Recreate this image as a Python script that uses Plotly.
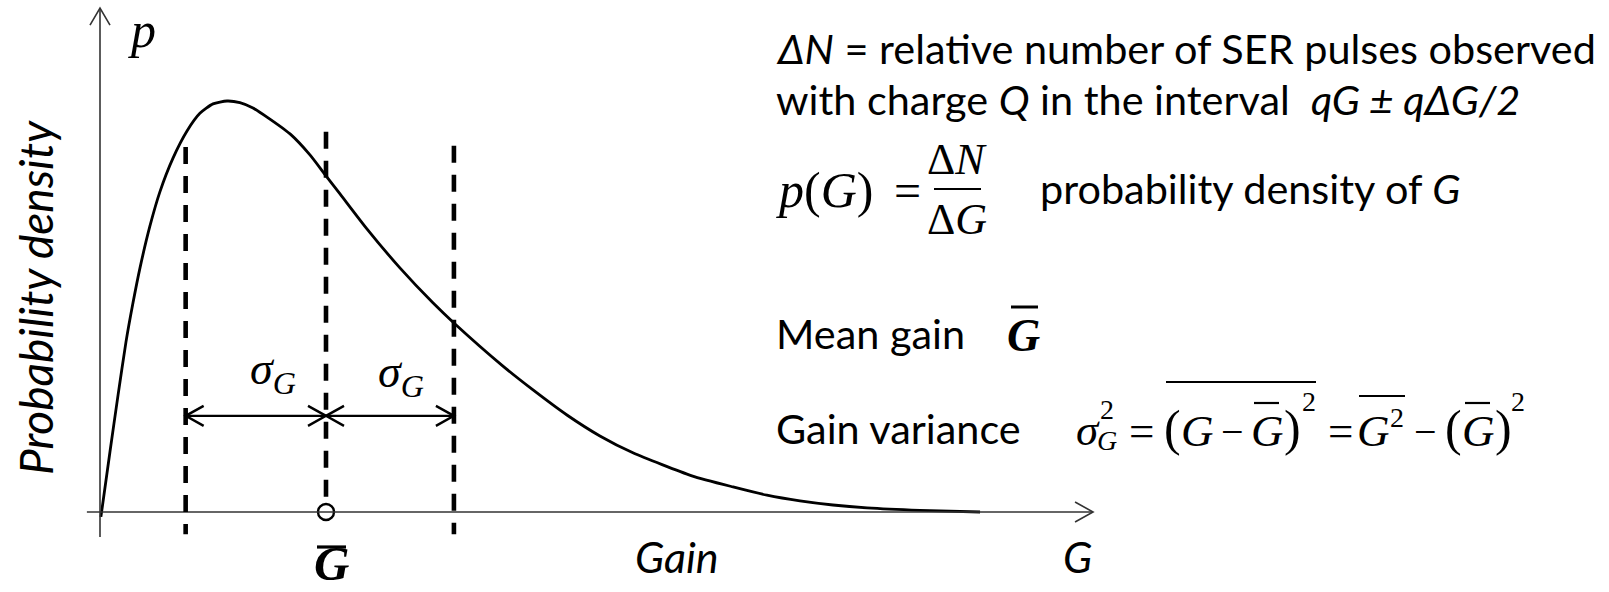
import plotly.graph_objects as go

W, H = 1609, 592

# Single-electron-response gain distribution (arbitrary units: mean gain = 1, peak density = 1)
gain = [0.004, 0.044, 0.080, 0.115, 0.146, 0.177, 0.221, 0.265, 0.323, 0.385, 0.442,
        0.500, 0.562, 0.619, 0.677, 0.739, 0.841, 0.929, 1.000, 1.062, 1.181, 1.327,
        1.473, 1.566, 1.783, 1.916, 2.066, 2.212, 2.358, 2.619, 2.801, 2.951, 3.097,
        3.243, 3.394, 3.628, 3.894]
density = [-0.012, 0.146, 0.285, 0.414, 0.509, 0.594, 0.696, 0.779, 0.861, 0.927, 0.970,
           0.993, 1.000, 0.996, 0.983, 0.961, 0.920, 0.869, 0.818, 0.774, 0.689, 0.594,
           0.509, 0.460, 0.355, 0.297, 0.236, 0.185, 0.144, 0.088, 0.061, 0.041, 0.027,
           0.017, 0.010, 0.004, 0.000]

mean_gain = 1.0
sigma_marks = [0.379, 1.0, 1.566]      # G - sigma, mean, G + sigma
dash_tops = [0.888, 0.925, 0.891]
dash_bottom = -0.054
arrow_level = 0.234

# axis extents (data units)
x_axis_from, x_axis_to = -0.058, 4.394
y_axis_from, y_axis_to = -0.061, 1.226

# linear scales: origin sits at pixel (100, 512)
PX_PER_G, PX_PER_P = 226.0, 411.0
ORIGIN_X, ORIGIN_Y = 100.0, 512.0
xr = [-ORIGIN_X / PX_PER_G, (W - ORIGIN_X) / PX_PER_G]
yr = [(ORIGIN_Y - H) / PX_PER_P, ORIGIN_Y / PX_PER_P]

SANS = "Lato"
SERIF = "Liberation Serif"
INK = "black"
AXIS = "#333333"


def px(x):
    return x / W


def py(y):
    return 1 - y / H


fig = go.Figure()

# distribution curve
fig.add_trace(go.Scatter(
    x=gain, y=density, mode="lines",
    line=dict(color=INK, width=2.8, shape="spline", smoothing=0.6),
    hoverinfo="skip", showlegend=False))

# mean marker on the gain axis
fig.add_trace(go.Scatter(
    x=[mean_gain], y=[0], mode="markers",
    marker=dict(symbol="circle-open", size=16, color=INK, line=dict(width=2.4)),
    hoverinfo="skip", showlegend=False))

shapes = []

# axes with open arrowheads
shapes.append(dict(type="line", xref="x", yref="y", x0=x_axis_from, x1=x_axis_to, y0=0, y1=0,
                   line=dict(color=AXIS, width=1.6)))
shapes.append(dict(type="line", xref="x", yref="y", x0=0, x1=0, y0=y_axis_from, y1=y_axis_to,
                   line=dict(color=AXIS, width=1.6)))
shapes.append(dict(type="path", xref="x", yref="y", xsizemode="pixel", ysizemode="pixel",
                   xanchor=x_axis_to, yanchor=0, path="M -18,10 L 0,0 L -18,-10",
                   line=dict(color=AXIS, width=1.6)))
shapes.append(dict(type="path", xref="x", yref="y", xsizemode="pixel", ysizemode="pixel",
                   xanchor=0, yanchor=y_axis_to, path="M -10,-17 L 0,0 L 10,-17",
                   line=dict(color=AXIS, width=1.6)))

# dashed guides at mean and mean +/- sigma
for gx, top in zip(sigma_marks, dash_tops):
    bottom = 0.017 if gx == mean_gain else dash_bottom
    shapes.append(dict(type="line", xref="x", yref="y", x0=gx, x1=gx, y0=top, y1=bottom,
                       line=dict(color=INK, width=4.6, dash="17px,12px")))

# sigma arrows
shapes.append(dict(type="line", xref="x", yref="y", x0=sigma_marks[0], x1=sigma_marks[2],
                   y0=arrow_level, y1=arrow_level, line=dict(color=INK, width=2.4)))
heads = [(sigma_marks[0], "M 18,10 L 0,0 L 18,-10"),
         (sigma_marks[1], "M -18,10 L 0,0 L -18,-10"),
         (sigma_marks[1], "M 18,10 L 0,0 L 18,-10"),
         (sigma_marks[2], "M -18,10 L 0,0 L -18,-10")]
for gx, path in heads:
    shapes.append(dict(type="path", xref="x", yref="y", xsizemode="pixel", ysizemode="pixel",
                       xanchor=gx, yanchor=arrow_level, path=path,
                       line=dict(color=INK, width=2.4)))


def bar(x0, x1, y, width=2.2):
    shapes.append(dict(type="line", xref="paper", yref="paper", x0=px(x0), x1=px(x1),
                       y0=py(y), y1=py(y), line=dict(color=INK, width=width)))


annotations = []


def label(text, x, y, size, family=SANS, xanchor="center", angle=0, yanchor="middle"):
    annotations.append(dict(text=text, x=px(x), y=py(y), xref="paper", yref="paper",
                            xanchor=xanchor, yanchor=yanchor, showarrow=False, borderpad=0,
                            textangle=angle, font=dict(family=family, size=size, color=INK)))


# axis labels
label("<i>p</i>", 142, 30, 50, SERIF)
label("<i>Probability density</i>", 35, 298, 46, SANS, angle=-90)
label("<i>Gain</i>", 677, 556, 43)
label("<i>G</i>", 1077, 556, 43)
label("<i>σ</i><sub><i>G</i></sub>", 273, 372, 46, SERIF)
label("<i>σ</i><sub><i>G</i></sub>", 401, 375, 46, SERIF)
label("<b><i>G</i></b>", 331, H, 49, SERIF, yanchor="bottom")
bar(317, 346, 547, 3.2)

# definitions
label("<i>ΔN</i> = relative number of SER pulses observed", 775, 48, 41.4, xanchor="left")
label("with charge <i>Q</i> in the interval  <i>qG ± qΔG/2</i>", 775, 99, 41.4, xanchor="left")

label("<i>p</i>(<i>G</i>)", 775, 190, 50, SERIF, xanchor="left")
label("=", 908, 190, 48, SERIF)
label("Δ<i>N</i>", 957, 159, 44, SERIF)
label("Δ<i>G</i>", 957, 219, 44, SERIF)
bar(934, 981, 189, 2.2)
label("probability density of <i>G</i>", 1039, 188, 41.4, xanchor="left")

label("Mean gain", 775, 333, 41.4, xanchor="left")
label("<b><i>G</i></b>", 1024, 335, 46, SERIF)
bar(1011, 1038, 307, 3.0)

label("Gain variance", 775, 428, 41.4, xanchor="left")

# variance formula, set piece by piece
MS, SS, PS, OS = 45, 28, 50, 40
label("<i>σ</i>", 1088, 430, MS, SERIF)
label("2", 1107, 409, SS, SERIF)
label("<i>G</i>", 1107, 440, SS, SERIF)
label("=", 1141, 431, MS, SERIF)
label("(", 1172, 428, PS, SERIF)
label("<i>G</i>", 1197, 431, MS, SERIF)
label("−", 1232, 431, OS, SERIF)
label("<i>G</i>", 1267, 431, MS, SERIF)
bar(1254, 1279, 403)
label(")", 1292, 428, PS, SERIF)
label("2", 1309, 401, SS, SERIF)
bar(1166, 1316, 382)
label("=", 1340, 431, MS, SERIF)
label("<i>G</i>", 1373, 431, MS, SERIF)
label("2", 1397, 418, SS, SERIF)
bar(1359, 1405, 396)
label("−", 1425, 431, OS, SERIF)
label("(", 1453, 428, PS, SERIF)
label("<i>G</i>", 1478, 431, MS, SERIF)
bar(1465, 1490, 403)
label(")", 1503, 428, PS, SERIF)
label("2", 1518, 401, SS, SERIF)

fig.update_layout(
    width=W, height=H, margin=dict(l=0, r=0, t=0, b=0),
    paper_bgcolor="white", plot_bgcolor="white",
    xaxis=dict(range=xr, visible=False, fixedrange=True),
    yaxis=dict(range=yr, visible=False, fixedrange=True),
    shapes=shapes, annotations=annotations, showlegend=False)

fig.write_html("out.html")
